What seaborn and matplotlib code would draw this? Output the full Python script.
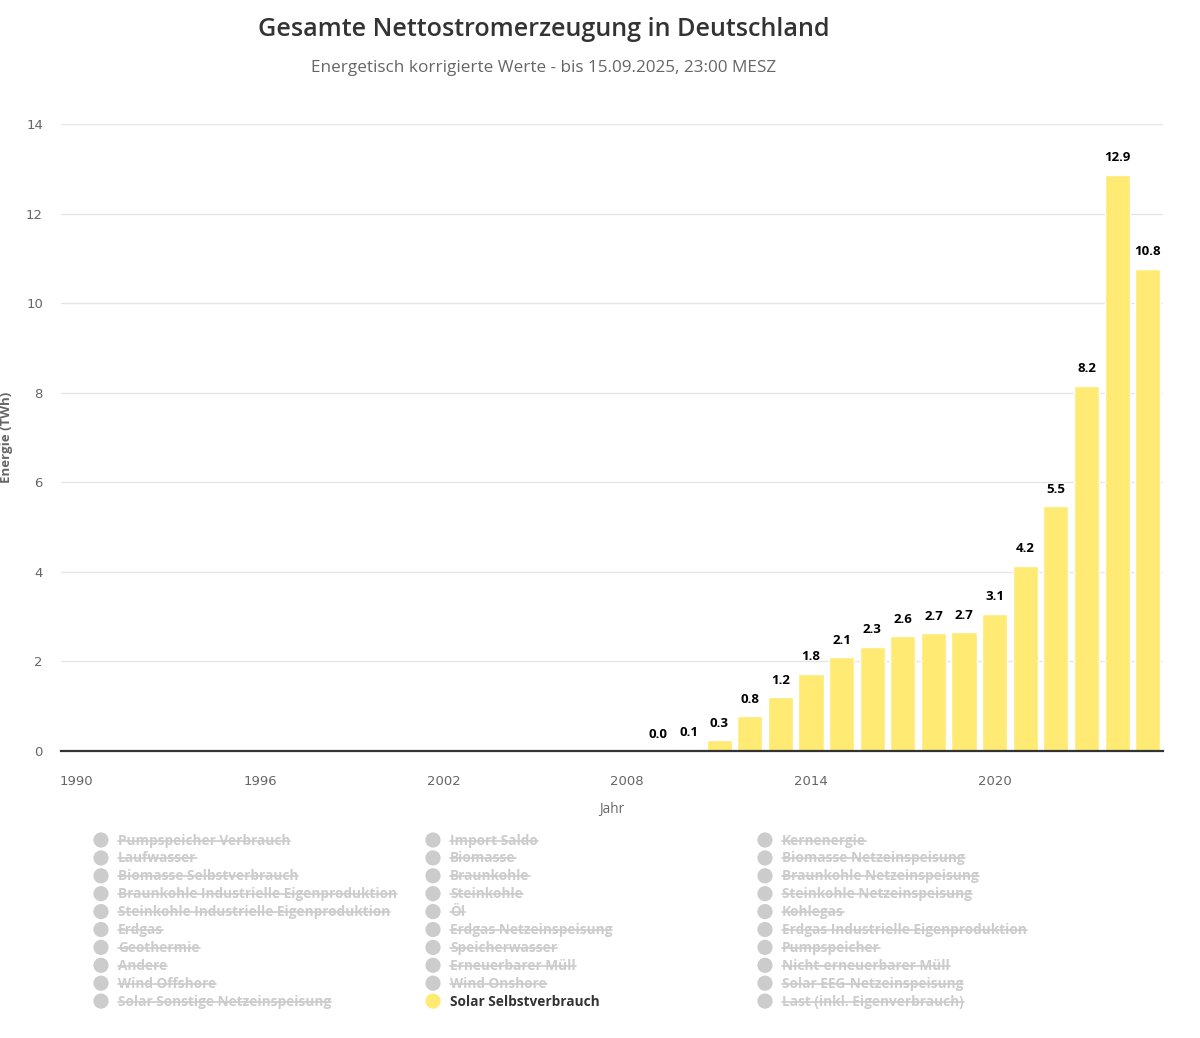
import numpy as np
import pandas as pd
import matplotlib
matplotlib.use("Agg")
import matplotlib.pyplot as plt
import seaborn as sns

# data
years = [2009, 2010, 2011, 2012, 2013, 2014, 2015, 2016, 2017,
         2018, 2019, 2020, 2021, 2022, 2023, 2024, 2025]
energy_twh = [0.0, 0.05, 0.25, 0.78, 1.2, 1.73, 2.1, 2.33, 2.56,
              2.63, 2.66, 3.07, 4.14, 5.47, 8.16, 12.87, 10.77]
bar_labels = ["0.0", "0.1", "0.3", "0.8", "1.2", "1.8", "2.1", "2.3", "2.6",
              "2.7", "2.7", "3.1", "4.2", "5.5", "8.2", "12.9", "10.8"]
x_ticks = [1990, 1996, 2002, 2008, 2014, 2020]
y_ticks = [0, 2, 4, 6, 8, 10, 12, 14]

legend_col1 = ["Pumpspeicher Verbrauch", "Laufwasser", "Biomasse Selbstverbrauch",
               "Braunkohle Industrielle Eigenproduktion",
               "Steinkohle Industrielle Eigenproduktion", "Erdgas", "Geothermie",
               "Andere", "Wind Offshore", "Solar Sonstige Netzeinspeisung"]
legend_col2 = ["Import Saldo", "Biomasse", "Braunkohle", "Steinkohle", "Öl",
               "Erdgas Netzeinspeisung", "Speicherwasser", "Erneuerbarer Müll",
               "Wind Onshore", "Solar Selbstverbrauch"]
legend_col3 = ["Kernenergie", "Biomasse Netzeinspeisung", "Braunkohle Netzeinspeisung",
               "Steinkohle Netzeinspeisung", "Kohlegas",
               "Erdgas Industrielle Eigenproduktion", "Pumpspeicher",
               "Nicht-erneuerbarer Müll", "Solar EEG-Netzeinspeisung",
               "Last (inkl. Eigenverbrauch)"]
active_series = "Solar Selbstverbrauch"

BAR = "#ffea74"
GREY_TXT = "#666666"
HIDDEN = "#cccccc"
FONT = ["Open Sans", "DejaVu Sans"]

sns.set_theme(style="white")
plt.rcParams["font.family"] = ["DejaVu Sans"]

df = pd.DataFrame({"year": years, "energy": energy_twh})

fig = plt.figure(figsize=(12, 10.38), dpi=100)
ax = fig.add_axes([61 / 1200, 1 - 751 / 1038, 1102 / 1200, 627 / 1038])

sns.barplot(data=df, x="year", y="energy", native_scale=True, width=0.82,
            color=BAR, saturation=1, errorbar=None, ax=ax, zorder=2)

for p, lab in zip(ax.patches, bar_labels):
    ax.annotate(lab, (p.get_x() + p.get_width() / 2, p.get_height()),
                xytext=(0, 9.5), textcoords="offset points", ha="center",
                va="baseline", fontsize=9.5, fontweight="bold", color="#000000",
                family=FONT)

ax.set_xlim(1989.5, 2025.5)
ax.set_ylim(0, 14)
ax.set_xticks(x_ticks)
ax.set_yticks(y_ticks)
ax.tick_params(axis="both", length=0, labelsize=9.5, labelcolor=GREY_TXT)
ax.tick_params(axis="y", pad=13)
ax.tick_params(axis="x", pad=17)
ax.yaxis.grid(True, color="#e6e6e6", linewidth=1, zorder=0)
ax.set_axisbelow(True)
for s in ["top", "right", "left"]:
    ax.spines[s].set_visible(False)
ax.spines["bottom"].set_color("#333333")
ax.spines["bottom"].set_linewidth(1.6)
ax.spines["bottom"].set_zorder(3)

ax.set_xlabel("Jahr", fontsize=9.8, color=GREY_TXT, labelpad=10, family=FONT)
ax.set_ylabel("Energie (TWh)", fontsize=9.5, color=GREY_TXT, fontweight="bold",
              family=FONT)
ax.yaxis.set_label_coords(-0.0435, 0.5)

fig.text(544 / 1200, 1 - 29 / 1038, "Gesamte Nettostromerzeugung in Deutschland",
         ha="center", va="center", fontsize=18.1, fontweight="semibold",
         color="#333333", family=FONT)
fig.text(544 / 1200, 1 - 68 / 1038,
         "Energetisch korrigierte Werte - bis 15.09.2025, 23:00 MESZ",
         ha="center", va="center", fontsize=12.3, color=GREY_TXT, family=FONT)

# legend drawn in pixel coordinates of an overlay axes
lax = fig.add_axes([0, 0, 1, 1])
lax.set_xlim(0, 1200)
lax.set_ylim(1038, 0)
lax.axis("off")

texts = []
for col_i, items in enumerate([legend_col1, legend_col2, legend_col3]):
    cx = 101 + col_i * 332
    for row_i, name in enumerate(items):
        cy = 840 + row_i * 17.9
        on = name == active_series
        lax.scatter([cx], [cy], s=120, color=BAR if on else HIDDEN,
                    edgecolor="none")
        t = lax.text(cx + 17, cy + 4.5, name, ha="left", va="baseline",
                     fontsize=9.8, fontweight="bold",
                     color="#333333" if on else HIDDEN, family=FONT)
        if not on:
            texts.append((t, cy))

fig.canvas.draw()
r = fig.canvas.get_renderer()
for t, cy in texts:
    bb = t.get_window_extent(renderer=r)
    lax.plot([bb.x0, bb.x1], [cy + 0.5, cy + 0.5], color=HIDDEN, lw=1.2)

fig.savefig("out.png", dpi=100)
